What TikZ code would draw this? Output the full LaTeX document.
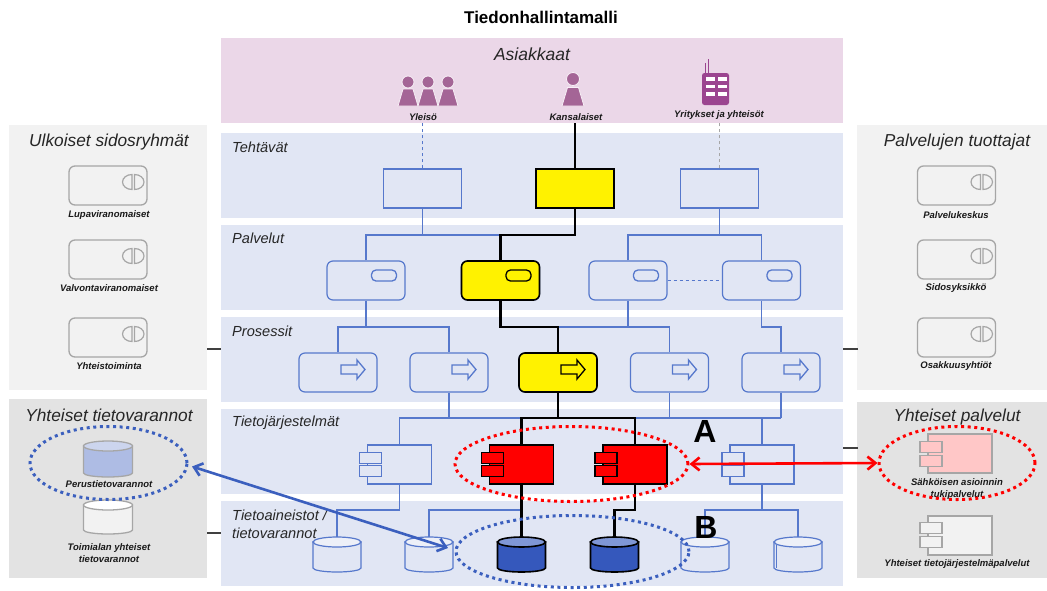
\documentclass[tikz,border=0pt]{standalone}
\usepackage{fontspec}
\setmainfont{Liberation Sans}
\usetikzlibrary{shapes.geometric,arrows.meta,calc}
\definecolor{bandblue}{HTML}{E1E6F4}
\definecolor{bandpink}{HTML}{EBD7E8}
\definecolor{panelA}{HTML}{F2F2F2}
\definecolor{panelB}{HTML}{E3E3E3}
\definecolor{lineblue}{HTML}{5678CC}
\definecolor{dotblue}{HTML}{3B5FBE}
\definecolor{cylblue}{HTML}{3558BC}
\definecolor{cyltop}{HTML}{7F97D6}
\definecolor{personc}{HTML}{A46596}
\definecolor{phonec}{HTML}{9B4590}
\definecolor{greyline}{HTML}{A6A6A6}
\tikzset{
 x=1pt,y=-1pt,
 band/.style={fill=bandblue,draw=none,inner sep=0pt,minimum width=622pt,minimum height=85pt},
 bandlab/.style={anchor=west,inner sep=0pt,font=\fontsize{14.6}{16}\selectfont\itshape,text=black!85},
 paneltitle/.style={inner sep=0pt,font=\fontsize{17.3}{19}\selectfont\itshape,text=black!85},
 lab/.style={inner sep=0pt,align=center,font=\fontsize{9.5}{12}\selectfont\bfseries\itshape,text=black!90},
 wire/.style={draw=lineblue,line width=1.2pt},
 hot/.style={draw=black,line width=2.2pt},
 taskbox/.style={draw=lineblue,line width=1.2pt,fill=bandblue,minimum width=78pt,minimum height=39pt,inner sep=0pt},
 roundbox/.style={taskbox,rounded corners=6pt},
 extbox/.style={draw=greyline,line width=1.3pt,fill=panelA,rounded corners=6pt,minimum width=78pt,minimum height=39pt,inner sep=0pt},
 hotbox/.style={draw=black,line width=1.6pt,fill=yellow},
 compbody/.style={draw=lineblue,line width=1.2pt,fill=bandblue,minimum width=64pt,minimum height=39pt,inner sep=0pt},
 hotcomp/.style={draw=black,line width=1.6pt,fill=red},
 cylbox/.style={draw=none,fill=none,minimum width=48pt,minimum height=35pt,inner sep=0pt,outer sep=0pt},
 dotring/.style={ellipse,inner sep=0pt,line width=3pt,dash pattern=on 3pt off 3.6pt},
}
\newcommand{\svcicon}[2][lineblue]{%
  \draw[draw=#1,line width=1.3pt,rounded corners=4.5pt] ($(#2.center)+(5.5,-10.5)$) rectangle ($(#2.center)+(30.5,0.5)$);}
\newcommand{\procicon}[2][lineblue]{%
  \draw[draw=#1,line width=1.3pt,line join=miter] ($(#2.center)+(3,-7.5)$) -- ($(#2.center)+(19,-7.5)$) -- ($(#2.center)+(19,-12.5)$) -- ($(#2.center)+(27,-3)$) -- ($(#2.center)+(19,6.5)$) -- ($(#2.center)+(19,1.5)$) -- ($(#2.center)+(3,1.5)$) -- cycle;}
\newcommand{\comptabs}[4]{% name, y1 offset, y2 offset, style
  \draw[#4] ($(#1.north west)+(-7.5,#2)$) rectangle ++(22,11);
  \draw[#4] ($(#1.north west)+(-7.5,#3)$) rectangle ++(22,11);}
\newcommand{\cyldraw}[5]{% node, half width, draw options, body fill, top fill
  \path[#3,fill=#4] ($(#1.north west)+(0,5)$) -- ($(#1.south west)+(0,-4)$)
     arc[start angle=180,end angle=0,x radius=#2,y radius=4] -- ($(#1.north east)+(0,5)$) -- cycle;
  \path[#3,fill=#5] ($(#1.north)+(0,5)$) ellipse[x radius=#2,y radius=5];}
\begin{document}
\begin{tikzpicture}
\useasboundingbox (0,0) rectangle (1047,590);
\fill[white] (0,0) rectangle (1047,590);
\node[inner sep=0pt,font=\fontsize{17}{19}\selectfont\bfseries] (title) at (541,17) {Tiedonhallintamalli};
% bands
\node[band,fill=bandpink] (bAsi) at (532,80.5) {};
\node[band] (bTeh) at (532,175) {};
\node[band] (bPal) at (532,267.5) {};
\node[band] (bPro) at (532,359.5) {};
\node[band] (bTie) at (532,451) {};
\node[band] (bAin) at (532,543) {};
% side panels
\fill[panelA] (9,125) rectangle (207,390);
\fill[panelB] (9,399) rectangle (207,578);
\fill[panelA] (857,125) rectangle (1047,390);
\fill[panelB] (857,402) rectangle (1047,578);
\coordinate (panelLu) at (207,349);
\coordinate (panelLl) at (207,533);
\coordinate (panelRu) at (858,349);
\coordinate (panelRl) at (858,448);
\draw[black!75,line width=1.3pt] (panelLu) -- (bPro.west |- panelLu);
\draw[black!75,line width=1.3pt] (panelLl) -- (bAin.west |- panelLl);
\draw[black!75,line width=1.3pt] (panelRu) -- (bPro.east |- panelRu);
\draw[black!75,line width=1.3pt] (panelRl) -- (bTie.east |- panelRl);
% band labels
\node[bandlab] (lTeh) at (232,147) {Tehtävät};
\node[bandlab] (lPal) at (232,238) {Palvelut};
\node[bandlab] (lPro) at (232,331) {Prosessit};
\node[bandlab] (lTie) at (232,423) {Tietojärjestelmät};
\node[bandlab] (lAin1) at (232,515) {Tietoaineistot /};
\node[bandlab] (lAin2) at (232,533) {tietovarannot};
\node[inner sep=0pt,font=\fontsize{17.5}{19}\selectfont\itshape,text=black!85] (lAsi) at (532,54) {Asiakkaat};
\node[paneltitle] (tUl) at (109,142) {Ulkoiset sidosryhmät};
\node[paneltitle] (tYt) at (109,415) {Yhteiset tietovarannot};
\node[paneltitle] (tPt) at (957,142) {Palvelujen tuottajat};
\node[paneltitle] (tYp) at (957,417) {Yhteiset palvelut};
% customers
\foreach \px in {408,428,448}{%
  \path[fill=personc,draw=bandpink!40!white,line width=0.8pt] (\px,82) circle[radius=6];
  \path[fill=personc,draw=bandpink!40!white,line width=0.8pt] (\px-5,89) -- (\px+5,89) -- (\px+10,106) -- (\px-10,106) -- cycle;}
\path[fill=personc,draw=bandpink!40!white,line width=0.8pt] (573,79) circle[radius=6.5];
\path[fill=personc,draw=bandpink!40!white,line width=0.8pt] (567.5,87.5) -- (578.5,87.5) -- (584,106) -- (562,106) -- cycle;
\draw[phonec,line width=1pt] (705,73) -- (705,63) (708,73) -- (708,59);
\fill[phonec,rounded corners=2.5pt] (702,73) rectangle (729,105);
\foreach \wy in {77,84.5,92}{\fill[white] (706,\wy) rectangle ++(8.5,3.5); \fill[white] (718,\wy) rectangle ++(8.5,3.5);}
\node[lab] (cYl) at (423,117) {Yleisö};
\node[lab] (cKa) at (576,117) {Kansalaiset};
\node[lab] (cYr) at (719,115) {Yritykset ja yhteisöt};
% main boxes
\node[taskbox] (t1) at (422.5,188.5) {};
\node[taskbox] (t2) at (575,188.5) {};
\node[taskbox] (t3) at (719.5,188.5) {};
\node[roundbox] (s1) at (366,280.5) {};
\node[roundbox] (s2) at (500.5,280.5) {};
\node[roundbox] (s3) at (628,280.5) {};
\node[roundbox] (s4) at (761.5,280.5) {};
\node[roundbox] (p1) at (338,372.5) {};
\node[roundbox] (p2) at (449,372.5) {};
\node[roundbox] (p3) at (558,372.5) {};
\node[roundbox] (p4) at (669.5,372.5) {};
\node[roundbox] (p5) at (781,372.5) {};
\node[compbody] (c1) at (399.5,464.5) {};
\node[compbody] (c2) at (521.5,464.5) {};
\node[compbody] (c3) at (635,464.5) {};
\node[compbody] (c4) at (762,464.5) {};
\node[cylbox] (d1) at (337,554.5) {};
\node[cylbox] (d2) at (429,554.5) {};
\node[cylbox] (d3) at (521.5,554.5) {};
\node[cylbox] (d4) at (614.5,554.5) {};
\node[cylbox] (d5) at (705,554.5) {};
\node[cylbox] (d6) at (798,554.5) {};
% rails
\coordinate (r1) at (0,235);
\coordinate (r2) at (0,327);
\coordinate (r3) at (0,418);
\coordinate (r4) at (0,510);
% customer links
\draw[wire,dashed] (t1.north) -- (bAsi.south -| t1.north);
\draw[draw=greyline,line width=1.2pt,dashed] (t3.north) -- (bAsi.south -| t3.north);
% blue connectors
\draw[wire] (t1.south) -- (t1.south |- r1);
\draw[wire] (s1.north) |- (s2.north |- r1) -- (s2.north);
\draw[wire] (t3.south) -- (t3.south |- r1);
\draw[wire] (s3.north) |- (s4.north |- r1) -- (s4.north);
\draw[wire,dashed] (s3.east) -- (s4.west);
\draw[wire] (s1.south) -- (s1.south |- r2);
\draw[wire] (p1.north) |- (p2.north |- r2) -- (p2.north);
\draw[wire] (s3.south) -- (s3.south |- r2);
\draw[wire] (p3.north) |- (p4.north |- r2) -- (p4.north);
\draw[wire] (s4.south) |- (p5.north |- r2) -- (p5.north);
\draw[wire] (p2.south) -- (p2.south |- r3);
\draw[wire] (p4.south) -- (p4.south |- r3);
\draw[wire] (p5.south) -- (p5.south |- r3);
\draw[wire] (c1.north) |- (p5.south |- r3);
\draw[wire] (c4.north) -- (c4.north |- r3);
\draw[wire] (c1.south) |- (d1.north |- r4) -- (d1.north);
\draw[wire] (c2.south) -- (c2.south |- r4) -| (d2.north);
\draw[wire] (c4.south) -- (c4.south |- r4);
\draw[wire] (d5.north) |- (d6.north |- r4) -- (d6.north);
% highlighted connectors
\draw[hot] (t2.north) -- (bAsi.south -| t2.north);
\draw[hot,line join=miter] (t2.south) |- (s2.north |- r1) -- (s2.north);
\draw[hot,line join=miter] (s2.south) |- (p3.north |- r2) -- (p3.north);
\draw[hot] (p3.south) -- (p3.south |- r3);
\draw[hot,line join=miter] (c2.north) |- (c3.north |- r3) -- (c3.north);
\draw[hot] (c2.south) -- (d3.north);
\draw[hot,line join=miter] (c3.south) |- (d4.north |- r4) -- (d4.north);
% highlighted boxes on top of the links
\node[taskbox,hotbox] at (t2) {};
\node[roundbox,hotbox] at (s2) {};
\node[roundbox,hotbox] at (p3) {};
\node[compbody,hotcomp] at (c2) {};
\node[compbody,hotcomp] at (c3) {};
% cylinders
\foreach \dn in {d1,d2,d5,d6}{\cyldraw{\dn}{24}{draw=lineblue,line width=1.2pt}{bandblue}{bandblue!60!white}}
\foreach \dn in {d3,d4}{\cyldraw{\dn}{24}{draw=black,line width=1.6pt}{cylblue}{cyltop}}
\draw[wire] ($(d6.north west)+(2.5,8)$) -- ($(d6.south west)+(2.5,-4)$);
% icons
\svcicon{s1}\svcicon[black]{s2}\svcicon{s3}\svcicon{s4}
\procicon{p1}\procicon{p2}\procicon[black]{p3}\procicon{p4}\procicon{p5}
\comptabs{c1}{8}{21}{draw=lineblue,line width=1.2pt,fill=bandblue}
\comptabs{c2}{8}{21}{draw=black,line width=1.6pt,fill=red}
\comptabs{c3}{8}{21}{draw=black,line width=1.6pt,fill=red}
\comptabs{c4}{8}{21}{draw=lineblue,line width=1.2pt,fill=bandblue}
% outside parties
\node[extbox] (e1) at (108,185.5) {};
\node[extbox] (e2) at (108,259.5) {};
\node[extbox] (e3) at (108,337.5) {};
\node[extbox] (e4) at (956.5,185.5) {};
\node[extbox] (e5) at (956.5,259.5) {};
\node[extbox] (e6) at (956.5,337.5) {};
\foreach \en in {e1,e2,e3,e4,e5,e6}{%
  \draw[greyline,line width=1.2pt] ($(\en.center)+(24,-11)$) arc[start angle=-90,end angle=-270,x radius=9.5,y radius=7.5] -- cycle;
  \draw[greyline,line width=1.2pt] ($(\en.center)+(26.5,-11)$) arc[start angle=-90,end angle=90,x radius=9.5,y radius=7.5] -- cycle;
}
\node[lab] (eL1) at (109,215) {Lupaviranomaiset};
\node[lab] (eL2) at (109,288) {Valvontaviranomaiset};
\node[lab] (eL3) at (109,366) {Yhteistoiminta};
\node[lab] (eL4) at (956,215) {Palvelukeskus};
\node[lab] (eL5) at (956,288) {Sidosyksikkö};
\node[lab] (eL6) at (956,366) {Osakkuusyhtiöt};
% shared stores
\node[cylbox,minimum width=49pt,minimum height=36pt] (st1) at (108,459) {};
\node[cylbox,minimum width=49pt,minimum height=34pt] (st2) at (108,517) {};
\cyldraw{st1}{24.5}{draw=greyline,line width=1.3pt}{cylblue!40!white}{cylblue!25!white}
\cyldraw{st2}{24.5}{draw=greyline,line width=1.3pt}{panelA}{white}
\node[lab] (stL1) at (109,484) {Perustietovarannot};
\node[lab] (stL2) at (109,553.5) {Toimialan yhteiset\\tietovarannot};
% shared services
\node[compbody,draw=greyline,line width=1.3pt,fill=red!22!white] (k1) at (960,453.5) {};
\comptabs{k1}{8}{22}{draw=greyline,line width=1.3pt,fill=red!22!white}
\node[compbody,draw=greyline,line width=1.3pt,fill=panelA] (k2) at (960,535.5) {};
\comptabs{k2}{7}{21}{draw=greyline,line width=1.3pt,fill=panelA}
\node[lab] (kL1) at (957,489.5) {Sähköisen asioinnin\\tukipalvelut};
\node[lab] (kL2) at (957,564) {Yhteiset tietojärjestelmäpalvelut};
% rings
\node[dotring,draw=red,minimum width=233pt,minimum height=75pt] (ringA) at (571.5,464) {};
\node[dotring,draw=dotblue,minimum width=233pt,minimum height=72pt] (ringB) at (572.5,551.5) {};
\node[dotring,draw=dotblue,minimum width=157pt,minimum height=73pt] (ringL) at (108.5,463) {};
\node[dotring,draw=red,minimum width=156pt,minimum height=73pt] (ringR) at (957,463) {};
% double arrows
\coordinate (bLend) at (192,466.5);
\coordinate (bRend) at (448,548);
\draw[draw=dotblue,line width=2.6pt,{Straight Barb[length=8pt,width=13pt]}-{Straight Barb[length=8pt,width=13pt]}] (bLend) -- (bRend);
\draw[draw=red,line width=2.6pt,{Straight Barb[length=8pt,width=13pt]}-{Straight Barb[length=8pt,width=13pt]}] (ringA.east) -- (ringR.west);
% letters
\node[inner sep=0pt,font=\fontsize{32}{34}\selectfont\bfseries] (mA) at (705,431) {A};
\node[inner sep=0pt,font=\fontsize{32}{34}\selectfont\bfseries] (mB) at (706,527) {B};
\end{tikzpicture}
\end{document}
